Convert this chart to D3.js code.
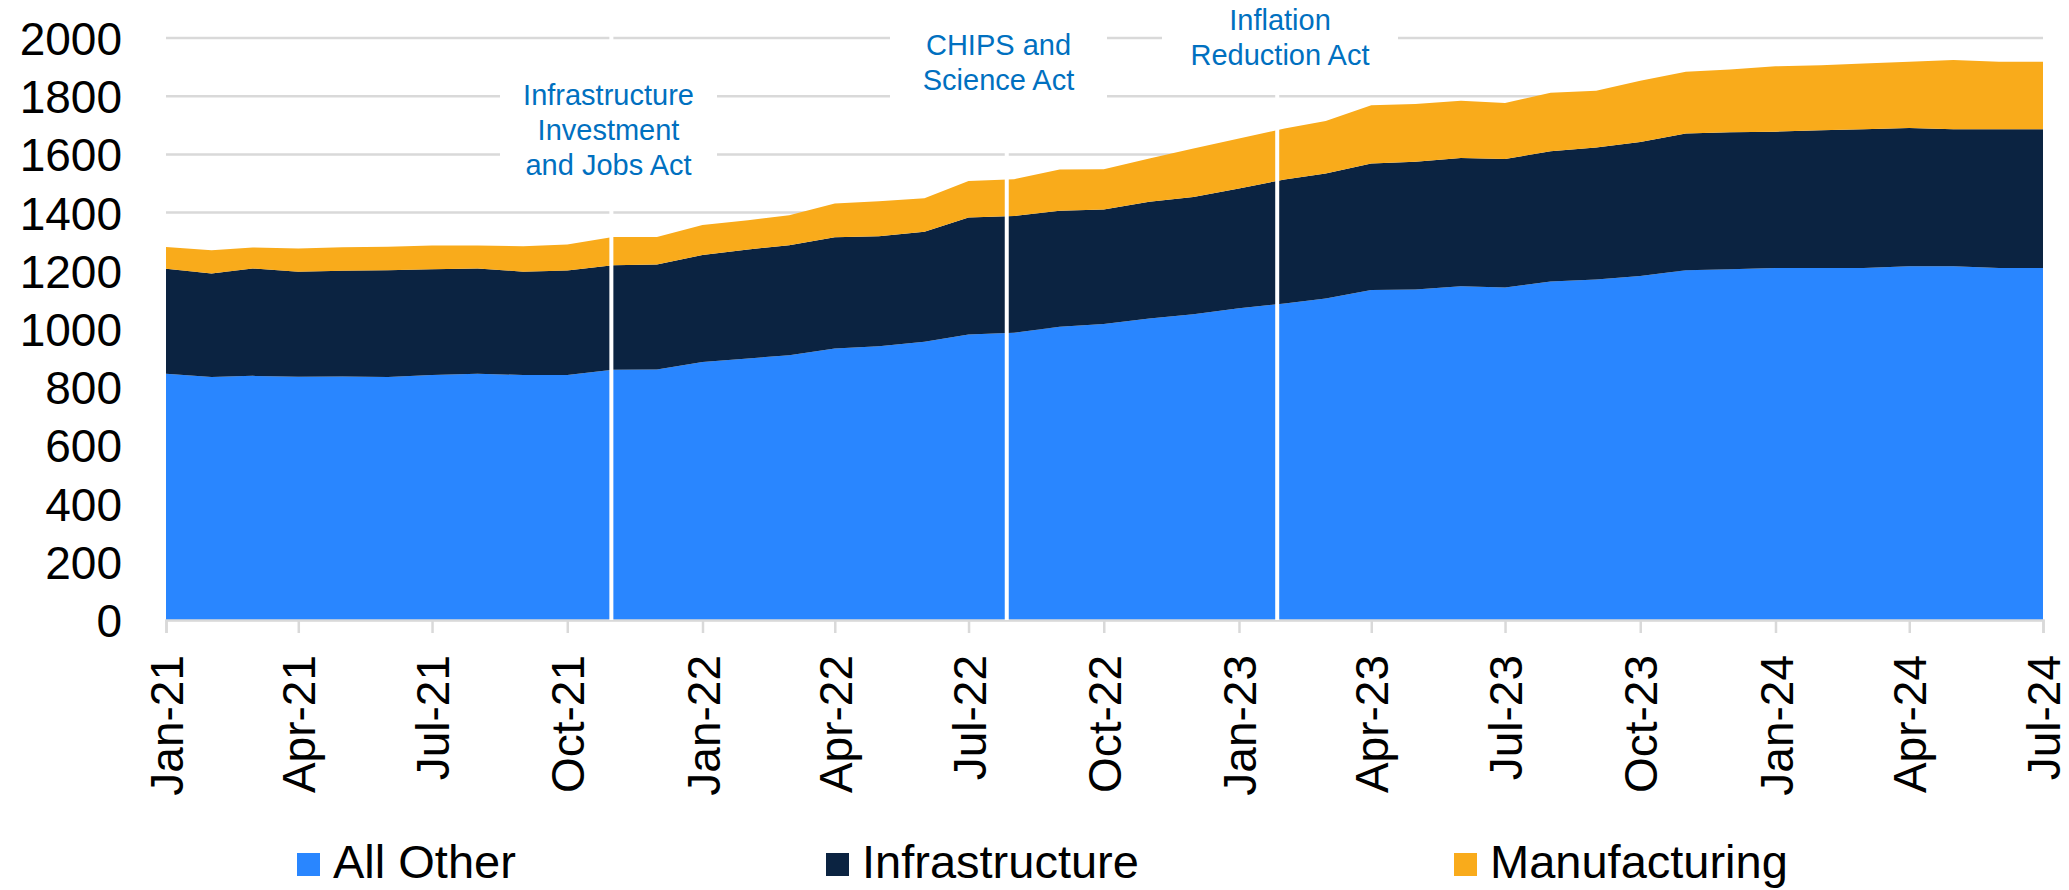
<!DOCTYPE html>
<html>
<head>
<meta charset="utf-8">
<script src="https://cdn.jsdelivr.net/npm/d3@7"></script>
<style>
  body { margin: 0; background: #fff; }
  text { font-family: "Liberation Sans", Arial, sans-serif; }
</style>
</head>
<body>
<script>
// monthly values, Jan-21 .. Jul-24
const months = ["2021-01","2021-02","2021-03","2021-04","2021-05","2021-06","2021-07","2021-08","2021-09","2021-10","2021-11","2021-12",
                "2022-01","2022-02","2022-03","2022-04","2022-05","2022-06","2022-07","2022-08","2022-09","2022-10","2022-11","2022-12",
                "2023-01","2023-02","2023-03","2023-04","2023-05","2023-06","2023-07","2023-08","2023-09","2023-10","2023-11","2023-12",
                "2024-01","2024-02","2024-03","2024-04","2024-05","2024-06","2024-07"];
const allOther = [846,835,839,836,837,835,842,846,842,842,860,861,
                  887,899,910,933,941,956,981,987,1008,1017,1036,1051,
                  1071,1088,1105,1134,1136,1147,1143,1163,1170,1182,1202,1205,
                  1210,1210,1210,1216,1216,1210,1210];
const infrastructure = [361,356,369,361,363,367,363,362,355,359,359,361,
                        367,374,378,382,378,378,402,401,398,394,401,403,
                        412,426,429,435,439,441,441,448,454,461,470,471,
                        468,473,476,475,470,476,476];
const manufacturing = [75,80,72,80,81,81,82,79,87,89,97,94,
                       103,101,103,116,120,115,126,127,142,138,149,166,
                       172,175,181,200,198,196,193,201,195,210,212,216,
                       225,223,226,227,238,232,232];
const seriesNames = ["All Other", "Infrastructure", "Manufacturing"];
const seriesColors = ["#2986ff", "#0b2341", "#f9ab1b"];
const yTicks = [0,200,400,600,800,1000,1200,1400,1600,1800,2000];
const xTickMonths = ["2021-01","2021-04","2021-07","2021-10","2022-01","2022-04","2022-07","2022-10",
                     "2023-01","2023-04","2023-07","2023-10","2024-01","2024-04","2024-07"];
const events = [
  {date: "2021-10-31", lines: ["Infrastructure", "Investment", "and Jobs Act"]},
  {date: "2022-07-27", lines: ["CHIPS and", "Science Act"]},
  {date: "2023-01-27", lines: ["Inflation", "Reduction Act"]}
];

const w = 2069, h = 890;
const plotLeft = 166, plotRight = 2043, plotTop = 38, plotBottom = 620;

const parseMonth = d3.timeParse("%Y-%m");
const parseDay = d3.timeParse("%Y-%m-%d");
const fmt = d3.timeFormat("%b-%y");

const data = months.map((m, i) => ({
  date: parseMonth(m),
  "All Other": allOther[i],
  "Infrastructure": infrastructure[i],
  "Manufacturing": manufacturing[i]
}));

const x = d3.scaleTime()
            .domain(d3.extent(data, d => d.date))
            .range([plotLeft, plotRight]);
const y = d3.scaleLinear()
            .domain([0, 2000])
            .range([plotBottom, plotTop]);

const svg = d3.select("body")
              .append("svg")
              .attr("width", w)
              .attr("height", h);

// gridlines
svg.append("g")
   .selectAll("line")
   .data(yTicks)
   .enter()
   .append("line")
   .attr("x1", plotLeft)
   .attr("x2", plotRight)
   .attr("y1", d => y(d))
   .attr("y2", d => y(d))
   .attr("stroke", "#d9d9d9")
   .attr("stroke-width", 2.5);

const stack = d3.stack().keys(seriesNames);
const layers = stack(data);

const area = d3.area()
               .x(d => x(d.data.date))
               .y0(d => y(d[0]))
               .y1(d => y(d[1]));

svg.append("g")
   .selectAll("path")
   .data(layers)
   .enter()
   .append("path")
   .attr("d", area)
   .attr("fill", (d, i) => seriesColors[i]);

// y axis labels
const yAxis = d3.axisLeft(y)
                .tickValues(yTicks)
                .tickFormat(d3.format("d"))
                .tickSize(0)
                .tickPadding(0);
const yG = svg.append("g")
              .attr("transform", "translate(122,0)")
              .call(yAxis);
yG.select(".domain").remove();
yG.selectAll("text")
  .attr("font-size", 46)
  .attr("fill", "#000")
  .attr("dy", "0.36em")
  .style("font-family", "'Liberation Sans', Arial, sans-serif");

// x axis
const xAxis = d3.axisBottom(x)
                .tickValues(xTickMonths.map(parseMonth))
                .tickSize(13)
                .tickFormat(fmt);
const xG = svg.append("g")
              .attr("transform", "translate(0," + plotBottom + ")")
              .call(xAxis);
xG.select(".domain").attr("stroke", "#d9d9d9").attr("stroke-width", 2.5);
xG.selectAll(".tick line").attr("stroke", "#d9d9d9").attr("stroke-width", 2.5);
xG.selectAll("text")
  .attr("font-size", 46)
  .attr("fill", "#000")
  .attr("text-anchor", "end")
  .attr("transform", "translate(0,35) rotate(-90)")
  .attr("x", 0)
  .attr("y", 0)
  .attr("dy", "0.36em")
  .style("font-family", "'Liberation Sans', Arial, sans-serif");

// event markers
const ev = svg.append("g");
ev.selectAll("line")
  .data(events)
  .enter()
  .append("line")
  .attr("x1", d => x(parseDay(d.date)))
  .attr("x2", d => x(parseDay(d.date)))
  .attr("y1", plotTop - 8)
  .attr("y2", plotBottom)
  .attr("stroke", "#fff")
  .attr("stroke-width", 4);

const boxes = [
  {x: 500, y: 60, w: 217, h: 125, ty: 105},
  {x: 890, y: 14, w: 217, h: 96, ty: 55},
  {x: 1162, y: 0, w: 236, h: 80, ty: 30}
];
events.forEach((e, i) => {
  const b = boxes[i];
  ev.append("rect")
    .attr("x", b.x).attr("y", b.y)
    .attr("width", b.w).attr("height", b.h)
    .attr("fill", "#fff");
  const t = ev.append("text")
    .attr("text-anchor", "middle")
    .attr("font-size", 29)
    .attr("fill", "#0070c0");
  e.lines.forEach((l, j) => {
    t.append("tspan")
     .attr("x", b.x + b.w / 2)
     .attr("y", b.ty + j * 35)
     .text(l);
  });
});

// legend
const legendX = [297, 826, 1454];
const legend = svg.append("g").attr("id", "legend");
seriesNames.forEach((s, i) => {
  legend.append("rect")
        .attr("x", legendX[i])
        .attr("y", 853)
        .attr("width", 23)
        .attr("height", 23)
        .attr("fill", seriesColors[i]);
  legend.append("text")
        .attr("x", legendX[i] + 36)
        .attr("y", 878)
        .attr("font-size", 47)
        .attr("fill", "#000")
        .text(s);
});
</script>
</body>
</html>
